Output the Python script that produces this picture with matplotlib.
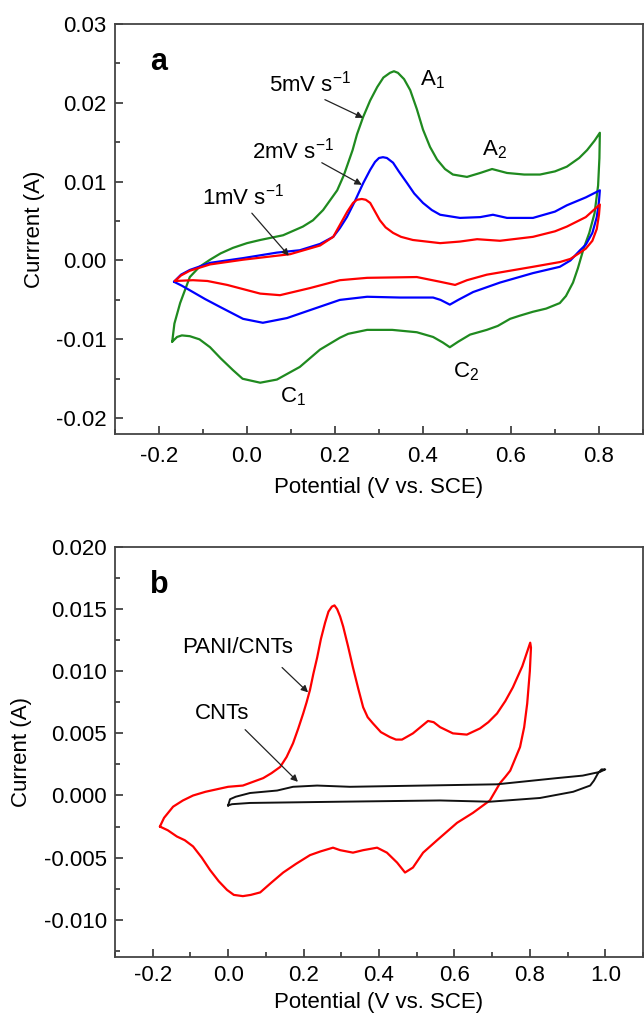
import numpy as np
import matplotlib
matplotlib.use('Agg')
import matplotlib.pyplot as plt
from matplotlib.ticker import MultipleLocator, FormatStrFormatter

plt.rcParams['font.family'] = ['Liberation Sans', 'DejaVu Sans']
plt.rcParams['axes.unicode_minus'] = False
plt.rcParams['mathtext.fontset'] = 'custom'
plt.rcParams['mathtext.rm'] = 'Liberation Sans'

# ---- panel a: CV at different scan rates (V, A) ----
green_x = [-0.170, -0.165, -0.152, -0.130, -0.108, -0.084, -0.060, -0.032, 0.000, 0.030, 0.082,
           0.127, 0.150, 0.173, 0.205, 0.220, 0.240, 0.250, 0.264, 0.280, 0.296, 0.310, 0.325, 0.334,
           0.343, 0.357, 0.371, 0.386, 0.400, 0.416, 0.432, 0.450, 0.468, 0.500, 0.530, 0.557, 0.591,
           0.630, 0.666, 0.700, 0.727, 0.755, 0.773, 0.790, 0.802, 0.801, 0.798, 0.790, 0.778, 0.765,
           0.752, 0.741, 0.725, 0.711, 0.680, 0.650, 0.620, 0.598, 0.570, 0.545, 0.507, 0.480, 0.461,
           0.445, 0.423, 0.386, 0.330, 0.273, 0.230, 0.211, 0.166, 0.120, 0.068, 0.030, -0.010, -0.032,
           -0.060, -0.084, -0.108, -0.130, -0.148, -0.159, -0.170]
green_y = [-0.0103, -0.0080, -0.0054, -0.0021, -0.0008, 0.0001, 0.0009, 0.0016, 0.0022, 0.0026, 0.0032,
           0.0043, 0.0051, 0.0064, 0.0089, 0.0108, 0.0140, 0.0160, 0.0182, 0.0203, 0.0220, 0.0232, 0.0238, 0.0240,
           0.0238, 0.0230, 0.0216, 0.0192, 0.0166, 0.0144, 0.0128, 0.0116, 0.0109, 0.0106, 0.0111, 0.0116, 0.0111,
           0.0109, 0.0109, 0.0113, 0.0119, 0.0130, 0.0140, 0.0152, 0.0162, 0.0130, 0.0095, 0.0060, 0.0035, 0.0015,
           -0.0010, -0.0028, -0.0045, -0.0054, -0.0061, -0.0065, -0.0070, -0.0074, -0.0083, -0.0088, -0.0094, -0.0103, -0.0110,
           -0.0104, -0.0097, -0.0091, -0.0088, -0.0088, -0.0093, -0.0098, -0.0113, -0.0135, -0.0151, -0.0155, -0.0150, -0.0139,
           -0.0124, -0.0110, -0.0100, -0.0096, -0.0095, -0.0097, -0.0103]

blue_x = [-0.166, -0.150, -0.130, -0.084, -0.009, 0.068, 0.120, 0.166, 0.196, 0.211, 0.227, 0.245,
          0.264, 0.280, 0.291, 0.300, 0.309, 0.318, 0.332, 0.345, 0.364, 0.380, 0.400, 0.420, 0.439,
          0.484, 0.530, 0.559, 0.591, 0.650, 0.700, 0.727, 0.770, 0.802, 0.800, 0.795, 0.785, 0.770,
          0.757, 0.735, 0.711, 0.650, 0.575, 0.514, 0.480, 0.461, 0.440, 0.423, 0.348, 0.273, 0.211,
          0.143, 0.091, 0.036, -0.009, -0.061, -0.095, -0.123, -0.148, -0.166]
blue_y = [-0.0027, -0.0018, -0.0012, -0.0003, 0.0003, 0.0010, 0.0013, 0.0021, 0.0030, 0.0041, 0.0055, 0.0075,
          0.0098, 0.0115, 0.0125, 0.0130, 0.0131, 0.0130, 0.0124, 0.0113, 0.0098, 0.0085, 0.0073, 0.0064, 0.0058,
          0.0054, 0.0055, 0.0058, 0.0054, 0.0054, 0.0062, 0.0070, 0.0080, 0.0089, 0.0075, 0.0055, 0.0035, 0.0020,
          0.0013, 0.0000, -0.0008, -0.0016, -0.0028, -0.0040, -0.0050, -0.0056, -0.0050, -0.0047, -0.0047, -0.0046, -0.0050,
          -0.0063, -0.0073, -0.0079, -0.0074, -0.0059, -0.0049, -0.0040, -0.0032, -0.0027]

red_x = [-0.164, -0.150, -0.130, -0.084, -0.009, 0.098, 0.166, 0.196, 0.211, 0.228, 0.241, 0.250,
         0.261, 0.270, 0.280, 0.290, 0.302, 0.315, 0.332, 0.350, 0.377, 0.439, 0.484, 0.523, 0.575,
         0.650, 0.700, 0.727, 0.770, 0.802, 0.800, 0.795, 0.785, 0.770, 0.757, 0.735, 0.711, 0.650,
         0.545, 0.500, 0.473, 0.439, 0.386, 0.273, 0.211, 0.143, 0.075, 0.030, -0.045, -0.090, -0.123, -0.164]
red_y = [-0.0026, -0.0019, -0.0013, -0.0005, 0.0001, 0.0008, 0.0019, 0.0030, 0.0045, 0.0062, 0.0073, 0.0077,
         0.0078, 0.0077, 0.0073, 0.0063, 0.0051, 0.0042, 0.0035, 0.0030, 0.0026, 0.0022, 0.0024, 0.0027, 0.0025,
         0.0030, 0.0037, 0.0043, 0.0055, 0.0071, 0.0058, 0.0040, 0.0025, 0.0015, 0.0010, 0.0002, -0.0002, -0.0008,
         -0.0018, -0.0025, -0.0031, -0.0027, -0.0021, -0.0022, -0.0025, -0.0035, -0.0044, -0.0042, -0.0031, -0.0026, -0.0025, -0.0026]

# ---- panel b: PANI/CNTs vs CNTs ----
pani_x = [-0.181, -0.170, -0.146, -0.120, -0.093, -0.060, -0.030, 0.000, 0.039, 0.093, 0.115, 0.138,
          0.155, 0.172, 0.186, 0.199, 0.208, 0.217, 0.226, 0.236, 0.246, 0.257, 0.266, 0.275, 0.282,
          0.289, 0.297, 0.305, 0.318, 0.331, 0.345, 0.358, 0.370, 0.384, 0.405, 0.429, 0.445, 0.461,
          0.490, 0.510, 0.530, 0.545, 0.562, 0.596, 0.633, 0.668, 0.690, 0.713, 0.735, 0.755, 0.780,
          0.801, 0.803, 0.800, 0.793, 0.785, 0.774, 0.748, 0.735, 0.721, 0.694, 0.649, 0.607, 0.554,
          0.517, 0.490, 0.469, 0.448, 0.421, 0.395, 0.358, 0.331, 0.297, 0.278, 0.245, 0.217, 0.180,
          0.146, 0.115, 0.085, 0.060, 0.039, 0.015, -0.003, -0.025, -0.048, -0.070, -0.093, -0.115,
          -0.136, -0.160, -0.181]
pani_y = [-0.0025, -0.0018, -0.0009, -0.0004, 0.0000, 0.0003, 0.0005, 0.0007, 0.0008, 0.0014, 0.0018, 0.0023,
          0.0031, 0.0042, 0.0054, 0.0066, 0.0075, 0.0085, 0.0098, 0.0111, 0.0126, 0.0139, 0.0148, 0.0152, 0.0153,
          0.0150, 0.0144, 0.0136, 0.0120, 0.0103, 0.0086, 0.0071, 0.0063, 0.0058, 0.0051, 0.0047, 0.0045, 0.0045,
          0.0050, 0.0055, 0.0060, 0.0059, 0.0055, 0.0050, 0.0049, 0.0054, 0.0059, 0.0066, 0.0076, 0.0087, 0.0104,
          0.0123, 0.0119, 0.0100, 0.0074, 0.0055, 0.0039, 0.0020, 0.0015, 0.0010, -0.0004, -0.0014, -0.0022, -0.0036,
          -0.0046, -0.0058, -0.0062, -0.0054, -0.0046, -0.0042, -0.0044, -0.0046, -0.0044, -0.0042, -0.0045, -0.0048, -0.0055,
          -0.0062, -0.0070, -0.0078, -0.0080, -0.0081, -0.0080, -0.0076, -0.0069, -0.0060, -0.0050, -0.0041, -0.0036,
          -0.0033, -0.0028, -0.0025]

cnt_x = [0.000, 0.005, 0.020, 0.058, 0.130, 0.172, 0.236, 0.323, 0.713, 0.872, 0.940, 0.986, 1.000,
         0.990, 0.981, 0.970, 0.960, 0.915, 0.827, 0.694, 0.562, 0.297, 0.058, 0.010, 0.000]
cnt_y = [-0.0008, -0.0003, -0.0001, 0.0002, 0.0004, 0.0007, 0.0008, 0.0007, 0.0009, 0.0014, 0.0016, 0.0019, 0.0021,
         0.0021, 0.0018, 0.0012, 0.0008, 0.0003, -0.0002, -0.0005, -0.0004, -0.0005, -0.0006, -0.0007, -0.0008]

FS = 16

fig = plt.figure(figsize=(6.44, 10.23), dpi=100)
ax1 = fig.add_axes([0.1786, 0.5758, 0.8198, 0.4008])
ax2 = fig.add_axes([0.1786, 0.0645, 0.8198, 0.4008])


def style(ax, xlim, ylim, xmaj, ymaj, yfmt, xpad, lpad):
    ax.set_xlim(*xlim)
    ax.set_ylim(*ylim)
    ax.xaxis.set_major_locator(MultipleLocator(xmaj))
    ax.xaxis.set_minor_locator(MultipleLocator(xmaj / 2))
    ax.yaxis.set_major_locator(MultipleLocator(ymaj))
    ax.yaxis.set_minor_locator(MultipleLocator(ymaj / 2))
    ax.xaxis.set_major_formatter(FormatStrFormatter('%.1f'))
    ax.yaxis.set_major_formatter(FormatStrFormatter(yfmt))
    ax.tick_params(which='both', direction='in', top=False, right=False, labelsize=FS, width=1.2, color='#333333')
    ax.tick_params(which='major', length=6)
    ax.tick_params(axis='x', which='major', pad=xpad)
    ax.tick_params(axis='y', which='major', pad=6)
    ax.tick_params(which='minor', length=3.5)
    for s in ax.spines.values():
        s.set_linewidth(1.3)
        s.set_color('#444444')
    ax.set_xlabel('Potential (V vs. SCE)', fontsize=FS, labelpad=lpad)


arrow = dict(arrowstyle='-|>', color='#222222', lw=0.9, mutation_scale=10, shrinkA=0, shrinkB=0)
line_kw = dict(lw=1.6, solid_joinstyle='round', solid_capstyle='round')

# panel a
ax1.plot(green_x, green_y, color='#1f8a1f', **line_kw)
ax1.plot(blue_x, blue_y, color='#0000ff', **line_kw)
ax1.plot(red_x, red_y, color='#ff0000', **line_kw)
style(ax1, (-0.3, 0.9), (-0.022, 0.03), 0.2, 0.01, '%.2f', 9, 7)
ax1.set_ylabel('Currrent (A)', fontsize=FS, labelpad=8)
ax1.text(0.066, 0.907, 'a', transform=ax1.transAxes, fontsize=22, fontweight='bold', va='center')

ax1.annotate('', xy=(0.264, 0.0181), xytext=(0.177, 0.0204), arrowprops=arrow)
ax1.annotate('', xy=(0.261, 0.0096), xytext=(0.170, 0.0124), arrowprops=arrow)
ax1.annotate('', xy=(0.095, 0.0006), xytext=(0.011, 0.0060), arrowprops=arrow)
ax1.text(0.050, 0.0225, r'5mV s$^{\mathregular{-1}}$', fontsize=FS, va='center')
ax1.text(0.011, 0.0140, r'2mV s$^{\mathregular{-1}}$', fontsize=FS, va='center')
ax1.text(-0.102, 0.0081, r'1mV s$^{\mathregular{-1}}$', fontsize=FS, va='center')
ax1.text(0.393, 0.0229, r'A$_{\mathregular{1}}$', fontsize=FS, va='center')
ax1.text(0.534, 0.0140, r'A$_{\mathregular{2}}$', fontsize=FS, va='center')
ax1.text(0.075, -0.0173, r'C$_{\mathregular{1}}$', fontsize=FS, va='center')
ax1.text(0.468, -0.0141, r'C$_{\mathregular{2}}$', fontsize=FS, va='center')

# panel b
ax2.plot(pani_x, pani_y, color='#ff0000', **line_kw)
ax2.plot(cnt_x, cnt_y, color='#111111', lw=1.4, solid_joinstyle='round')
style(ax2, (-0.3, 1.1), (-0.013, 0.020), 0.2, 0.005, '%.3f', 6, 4)
ax2.set_ylabel('Current (A)', fontsize=FS, labelpad=8)
ax2.text(0.066, 0.907, 'b', transform=ax2.transAxes, fontsize=22, fontweight='bold', va='center')

ax2.annotate('', xy=(0.212, 0.0083), xytext=(0.143, 0.0103), arrowprops=arrow)
ax2.annotate('', xy=(0.185, 0.0011), xytext=(0.045, 0.0053), arrowprops=arrow)
ax2.text(-0.122, 0.0119, 'PANI/CNTs', fontsize=FS, va='center')
ax2.text(-0.088, 0.0066, 'CNTs', fontsize=FS, va='center')

fig.savefig('out.png', dpi=100)
